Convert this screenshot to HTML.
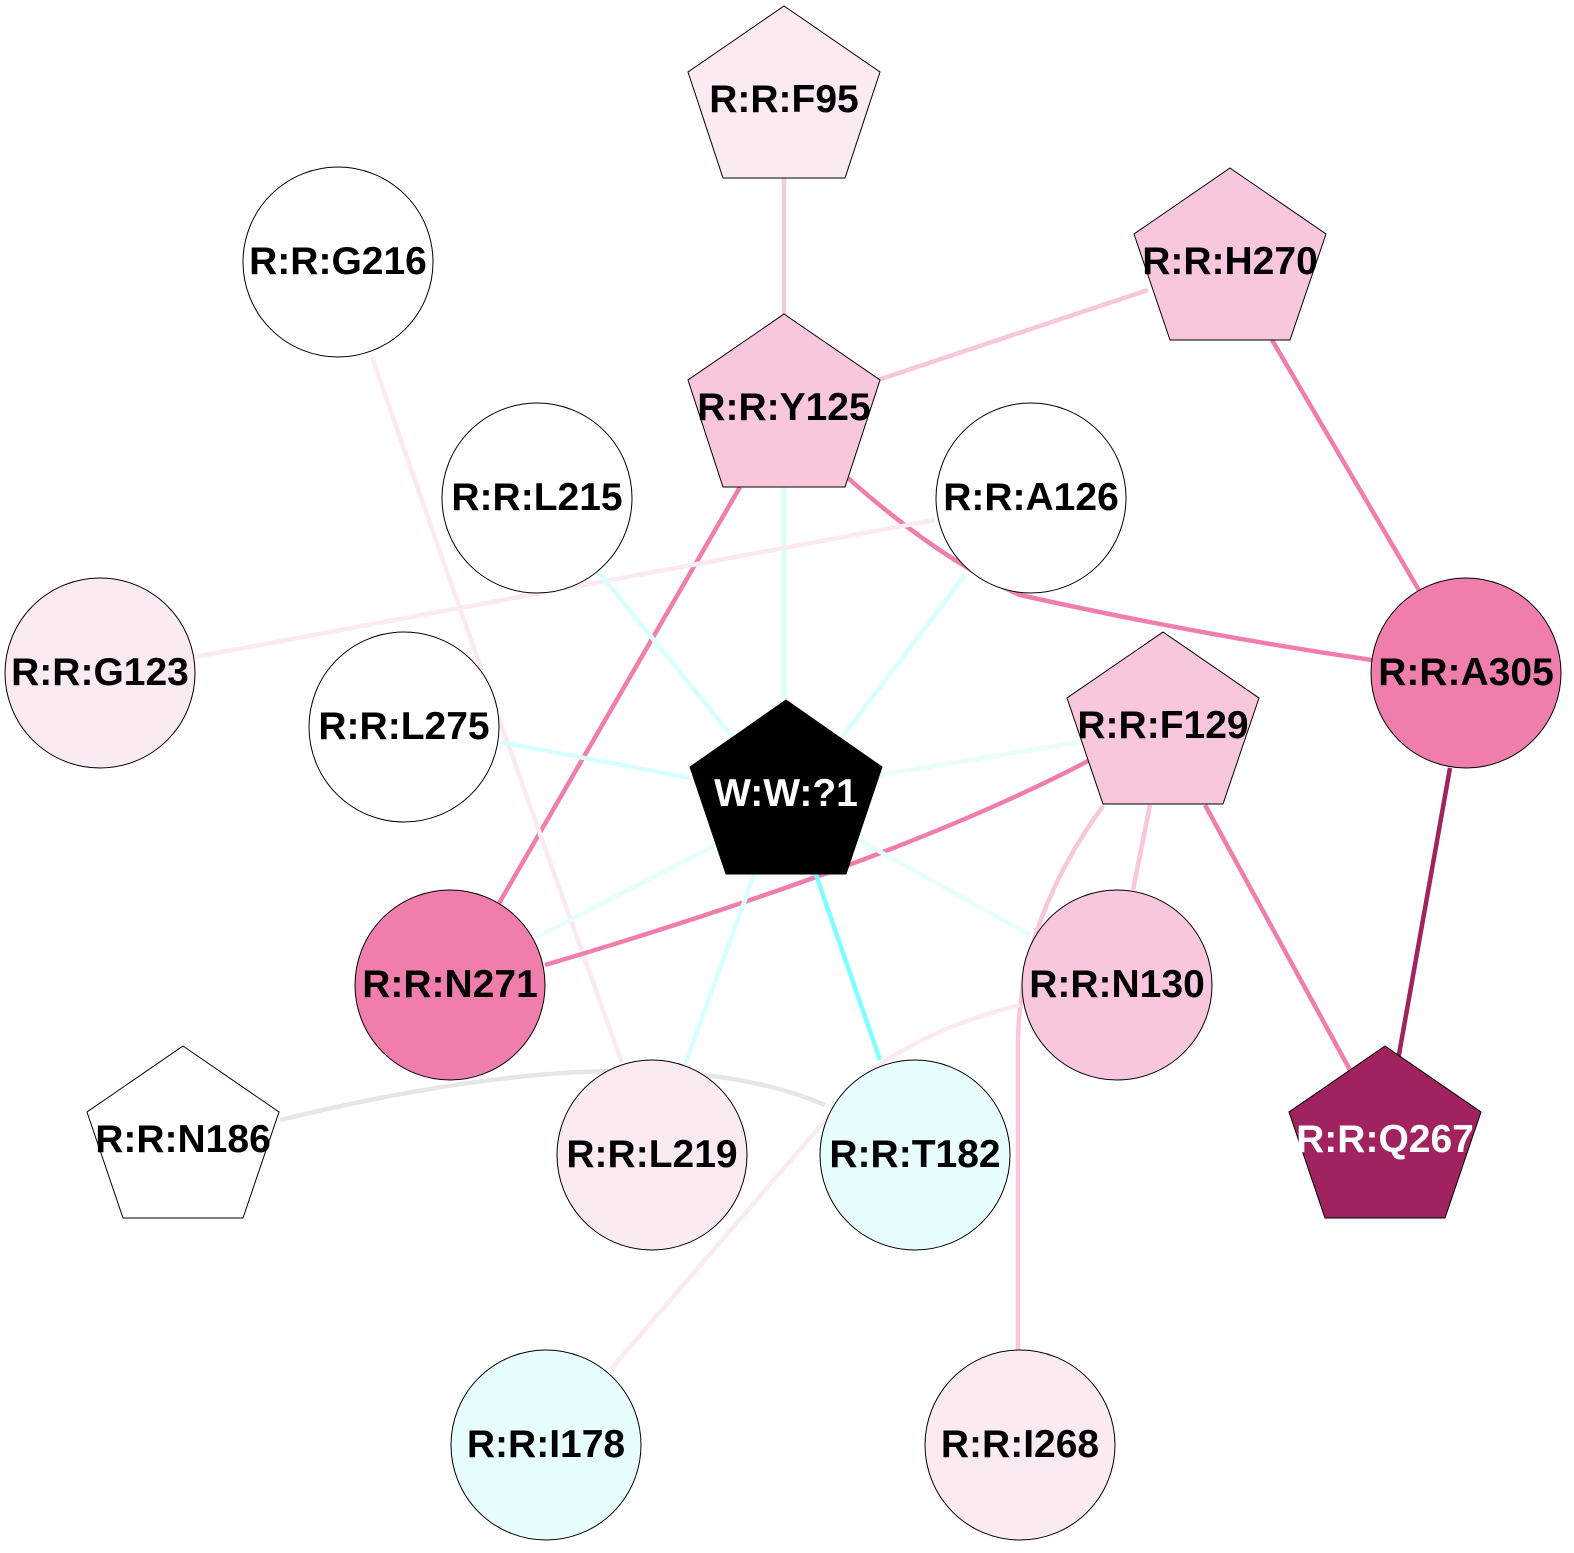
<!DOCTYPE html>
<html><head><meta charset="utf-8"><style>body{margin:0;background:#fff}svg{display:block}text{font-family:"Liberation Sans",Arial,sans-serif;font-weight:bold;font-size:39px;text-anchor:middle}</style></head><body>
<svg width="1574" height="1553" viewBox="0 0 1574 1553" xmlns="http://www.w3.org/2000/svg">
<g fill="none" stroke-width="4.5">
<path d="M784,178L784,314" stroke="#f9c7dd"/>
<path d="M1148,290L878,380" stroke="#f9c7dd"/>
<path d="M1272,340L1420,592" stroke="#f07eac"/>
<path d="M848,478Q940,560 1020,595Q1200,635 1372,660" stroke="#f07eac"/>
<path d="M740,487L498,905" stroke="#f07eac"/>
<path d="M784,487L784,699" stroke="#d8ffff"/>
<path d="M372,357Q470,640 622,1063" stroke="#fbeaf2"/>
<path d="M935,520L195,657" stroke="#fbeaf2"/>
<path d="M597,570L735,740" stroke="#d8ffff"/>
<path d="M965,575L840,740" stroke="#d8ffff"/>
<path d="M500,742L690,778" stroke="#d8ffff"/>
<path d="M1080,742L880,775" stroke="#e8fdfd"/>
<path d="M1090,760Q900,860 545,965" stroke="#f07eac"/>
<path d="M1150,805L1133,890" stroke="#f9c7dd"/>
<path d="M1205,805L1350,1070" stroke="#f07eac"/>
<path d="M1103,806Q1020,920 1018,1040L1018,1350" stroke="#f9c7dd"/>
<path d="M1450,768L1398,1060" stroke="#a0225f"/>
<path d="M735,835L535,938" stroke="#e8fdfd"/>
<path d="M850,835L1030,935" stroke="#e8fdfd"/>
<path d="M755,872L685,1065" stroke="#d8ffff"/>
<path d="M815,872L880,1060" stroke="#80ffff"/>
<path d="M1020,1005Q920,1030 860,1080L610,1370" stroke="#fbeaf2"/>
<path d="M280,1120Q650,1030 825,1105" stroke="#e6e6e6"/>
</g>
<g stroke="#000" stroke-width="1">
<polygon points="784,6 880,72 845,178 723,178 688,72" fill="#fbeaf2"/>
<polygon points="1230,168 1326,234 1290,340 1170,340 1134,234" fill="#f9c7dd"/>
<polygon points="784,314 880,380 845,487 723,487 688,380" fill="#f9c7dd"/>
<polygon points="1163,632 1259,698 1223,804 1103,804 1067,698" fill="#f9c7dd"/>
<polygon points="786,700 882,767 846,874 726,874 690,767" fill="#000"/>
<polygon points="183,1046 279,1112 243,1218 123,1218 87,1112" fill="#fff"/>
<polygon points="1385,1046 1481,1112 1445,1218 1325,1218 1289,1112" fill="#a0225f"/>
<circle cx="338" cy="262" r="95" fill="#fff"/>
<circle cx="537" cy="498" r="95" fill="#fff"/>
<circle cx="1031" cy="498" r="95" fill="#fff"/>
<circle cx="100" cy="673" r="95" fill="#fbeaf2"/>
<circle cx="1466" cy="673" r="95" fill="#f07eac"/>
<circle cx="404" cy="727" r="95" fill="#fff"/>
<circle cx="450" cy="985" r="95" fill="#f07eac"/>
<circle cx="1117" cy="985" r="95" fill="#f9c7dd"/>
<circle cx="652" cy="1155" r="95" fill="#fbeaf2"/>
<circle cx="915" cy="1155" r="95" fill="#e8fdfd"/>
<circle cx="546" cy="1445" r="95" fill="#e8fdfd"/>
<circle cx="1020" cy="1445" r="95" fill="#fbeaf2"/>
</g>
<g fill="#000">
<text x="784" y="112">R:R:F95</text>
<text x="1230" y="274">R:R:H270</text>
<text x="784" y="420">R:R:Y125</text>
<text x="1163" y="738">R:R:F129</text>
<text x="786" y="806" fill="#fff">W:W:?1</text>
<text x="183" y="1152">R:R:N186</text>
<text x="1385" y="1152" fill="#fff">R:R:Q267</text>
<text x="338" y="274">R:R:G216</text>
<text x="537" y="510">R:R:L215</text>
<text x="1031" y="510">R:R:A126</text>
<text x="100" y="685">R:R:G123</text>
<text x="1466" y="685">R:R:A305</text>
<text x="404" y="739">R:R:L275</text>
<text x="450" y="997">R:R:N271</text>
<text x="1117" y="997">R:R:N130</text>
<text x="652" y="1167">R:R:L219</text>
<text x="915" y="1167">R:R:T182</text>
<text x="546" y="1457">R:R:I178</text>
<text x="1020" y="1457">R:R:I268</text>
</g>
</svg>
</body></html>
